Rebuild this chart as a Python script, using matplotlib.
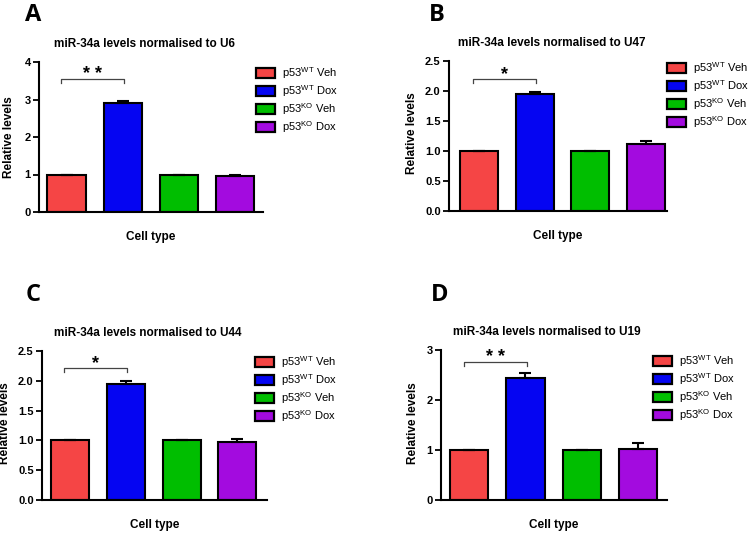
import matplotlib
matplotlib.use("Agg")
import matplotlib.pyplot as plt
from matplotlib.patches import Patch

plt.rcParams["font.family"] = ["Liberation Sans", "DejaVu Sans"]
plt.rcParams["mathtext.fontset"] = "custom"
plt.rcParams["mathtext.rm"] = "Liberation Sans"

# data
groups = ["p53$^{\\mathrm{WT}}$ Veh", "p53$^{\\mathrm{WT}}$ Dox",
          "p53$^{\\mathrm{KO}}$ Veh", "p53$^{\\mathrm{KO}}$ Dox"]
colors = ["#F54545", "#0505F2", "#00BE00", "#A30BDF"]

a_vals = [1.0, 2.92, 1.0, 0.96]
a_err = [0, 0.04, 0, 0.02]
b_vals = [1.0, 1.95, 1.0, 1.12]
b_err = [0, 0.03, 0, 0.04]
c_vals = [1.0, 1.95, 1.0, 0.98]
c_err = [0, 0.04, 0, 0.05]
d_vals = [1.0, 2.45, 1.0, 1.02]
d_err = [0, 0.10, 0, 0.13]

titles = ["miR-34a levels normalised to U6", "miR-34a levels normalised to U47",
          "miR-34a levels normalised to U44", "miR-34a levels normalised to U19"]
letters = ["A", "B", "C", "D"]
stars = ["* *", "*", "*", "* *"]
bracket_y = [3.55, 2.2, 2.21, 2.76]
yticks = [[0, 1, 2, 3, 4],
          [0.0, 0.5, 1.0, 1.5, 2.0, 2.5],
          [0.0, 0.5, 1.0, 1.5, 2.0, 2.5],
          [0, 1, 2, 3]]
ytick_labels = [["0", "1", "2", "3", "4"],
                ["0.0", "0.5", "1.0", "1.5", "2.0", "2.5"],
                ["0.0", "0.5", "1.0", "1.5", "2.0", "2.5"],
                ["0", "1", "2", "3"]]

W, H = 749, 535
# axes boxes in pixels: left, right, top, bottom
boxes = [(39, 263, 62, 212), (449, 667, 61, 211), (42, 267, 351, 500), (441, 667, 350, 500)]
xlims = [(-0.49, 3.5), (-0.53, 3.37), (-0.5, 3.53), (-0.5, 3.515)]
legend_pos = [(256, 65), (667, 60), (255, 354), (653, 353)]
letter_pos = [(25, 15), (429, 15), (26, 295), (431, 295)]
ylabel_pos = [(15, 137), (418, 133), (11, 423), (419, 423)]

fig = plt.figure(figsize=(W / 100, H / 100), dpi=100)
fig.patch.set_facecolor("white")

all_vals = [a_vals, b_vals, c_vals, d_vals]
all_err = [a_err, b_err, c_err, d_err]

for i in range(4):
    l, r, t, b = boxes[i]
    ax = fig.add_axes([l / W, 1 - b / H, (r - l) / W, (b - t) / H])
    x = range(4)
    ax.bar(x, all_vals[i], width=0.68, color=colors, edgecolor="black", linewidth=1.5,
           yerr=[[0] * 4, all_err[i]], capsize=4,
           error_kw=dict(elinewidth=1.5, capthick=1.5, ecolor="black"), zorder=2)
    ax.set_xlim(*xlims[i])
    ax.set_ylim(yticks[i][0], yticks[i][-1])
    ax.set_yticks(yticks[i])
    ax.set_yticklabels(ytick_labels[i], fontweight="bold", fontsize=8)
    ax.set_xticks([])
    for s in ["top", "right"]:
        ax.spines[s].set_visible(False)
    for s in ["left", "bottom"]:
        ax.spines[s].set_linewidth(1.5)
    ax.tick_params(axis="y", direction="out", length=4, width=1.3, pad=2)
    ax.set_xlabel("Cell type", fontweight="bold", fontsize=8.5, labelpad=14)
    ax.set_ylabel("Relative levels", fontweight="bold", fontsize=8.5)
    yx, yy = ylabel_pos[i]
    ax.yaxis.set_label_coords(yx / W, 1 - yy / H, transform=fig.transFigure)
    ax.text(0.47, 1.083, titles[i], transform=ax.transAxes, ha="center", va="bottom",
            fontweight="bold", fontsize=8.5)

    # significance bracket
    ymax = yticks[i][-1]
    yb = bracket_y[i]
    dy = ymax * 0.027
    ax.plot([-0.1, -0.1, 1.02, 1.02], [yb - dy, yb, yb, yb - dy], color="#444444",
            lw=0.9, clip_on=False)
    ax.text(0.46, yb + ymax * 0.03, stars[i], ha="center", va="center",
            fontsize=13, fontweight="bold")

    handles = [Patch(facecolor=c, edgecolor="black", linewidth=1.6) for c in colors]
    lx, ly = legend_pos[i]
    ax.legend(handles, groups, loc="upper left", bbox_to_anchor=(lx / W, 1 - ly / H),
              bbox_transform=fig.transFigure, frameon=False, fontsize=8,
              handlelength=1.7, handleheight=1.05, handletextpad=0.6,
              labelspacing=0.2, borderpad=0, borderaxespad=0)

    px, py = letter_pos[i]
    fig.text(px / W, 1 - py / H, letters[i], ha="left", va="center",
             fontsize=17, fontweight="bold", family=["Open Sans", "DejaVu Sans"])

fig.savefig("out.png", dpi=100)
